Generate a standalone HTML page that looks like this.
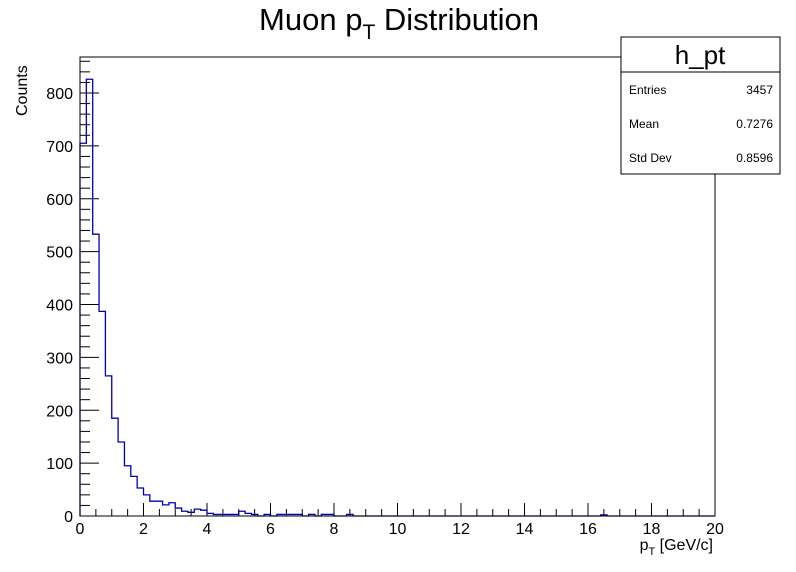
<!DOCTYPE html>
<html><head><meta charset="utf-8"><style>
html,body{margin:0;padding:0;background:#fff;}
svg{display:block;font-family:"Liberation Sans",sans-serif;}
</style></head><body>
<svg id="c" width="796" height="572" viewBox="0 0 796 572">
<rect x="0" y="0" width="796" height="572" fill="#fff"/>
<text x="399" y="30" font-size="31" text-anchor="middle">Muon p<tspan font-size="21" dy="9">T</tspan><tspan dy="-9"> Distribution</tspan></text>
<text transform="translate(27,116) rotate(-90)" font-size="16">Counts</text>
<text x="713" y="550" font-size="16" text-anchor="end">p<tspan font-size="11" dy="5">T</tspan><tspan dy="-5"> [GeV/c]</tspan></text>
<g id="axes"></g>
<g id="hist"></g>
<rect x="80" y="57" width="635" height="459" fill="none" stroke="#000" stroke-width="1"/>
<g>
<rect x="621" y="37" width="159" height="137" fill="#fff" stroke="#000"/>
<line x1="621" y1="72" x2="780" y2="72" stroke="#000"/>
<text x="700" y="64" font-size="26" text-anchor="middle">h_pt</text>
<text x="629" y="94" font-size="12">Entries</text>
<text x="773" y="94" font-size="12" text-anchor="end">3457</text>
<text x="629" y="128" font-size="12">Mean</text>
<text x="773" y="128" font-size="12" text-anchor="end">0.7276</text>
<text x="629" y="162" font-size="12">Std Dev</text>
<text x="773" y="162" font-size="12" text-anchor="end">0.8596</text>
</g>
</svg>
<script>
const binEdgesMin = 0, binEdgesMax = 20;
const counts = [705,826,533,387,265,185,140,95,75,53,40,28,28,21,25,15,9,7,13,11,5,3,3,3,3,9,5,3,0,3,0,3,3,3,3,0,3,0,3,3,0,0,3,0,0,0,0,0,0,0,
0,0,0,0,0,0,0,0,0,0,0,0,0,0,0,0,0,0,0,0,0,0,0,0,0,0,0,0,0,0,0,0,2,0,0,0,0,0,0,0,0,0,0,0,0,0,0,0,0,0];
const xTicks = [0,2,4,6,8,10,12,14,16,18,20];
const yTicks = [0,100,200,300,400,500,600,700,800];
const NS="http://www.w3.org/2000/svg";
const X0=80,X1=715,Y0=516,Ypx800=93;
function sx(v){return X0+(v-binEdgesMin)/(binEdgesMax-binEdgesMin)*(X1-X0);}
function sy(v){return Y0-v*(Y0-Ypx800)/800;}
function mk(t,a,p){const e=document.createElementNS(NS,t);for(const k in a)e.setAttribute(k,a[k]);p.appendChild(e);return e;}
const ax=document.getElementById('axes');
for(let v=0;v<=20.001;v+=0.5){
  const major=Math.abs(v/2-Math.round(v/2))<1e-6;
  const l=mk('line',{x1:sx(v),x2:sx(v),y1:Y0,y2:Y0-(major?13:7),stroke:'#000'},ax);
  
  
}
xTicks.forEach(v=>{
  const t=mk('text',{x:sx(v),y:Y0+18,'font-size':16,'text-anchor':'middle'},ax);t.textContent=v;
  
  
});
for(let v=0;v<=860;v+=20){
  const major=v%100===0;
  const l=mk('line',{x1:X0,x2:X0+(major?19:10),y1:sy(v),y2:sy(v),stroke:'#000'},ax);
  
  
}
yTicks.forEach(v=>{
  const t=mk('text',{x:X0-7,y:sy(v)+6,'font-size':16,'text-anchor':'end'},ax);t.textContent=v;
  
  
});
const n=counts.length,w=(binEdgesMax-binEdgesMin)/n;
let d='M'+sx(0)+' '+sy(0);
counts.forEach((c,i)=>{d+=' L'+sx(i*w)+' '+sy(c)+' L'+sx((i+1)*w)+' '+sy(c);});
d+=' L'+sx(binEdgesMax)+' '+sy(0);
const p=mk('path',{d:d,fill:'none',stroke:'#0000b0','stroke-width':1.3},document.getElementById('hist'));


</script>
</body></html>
